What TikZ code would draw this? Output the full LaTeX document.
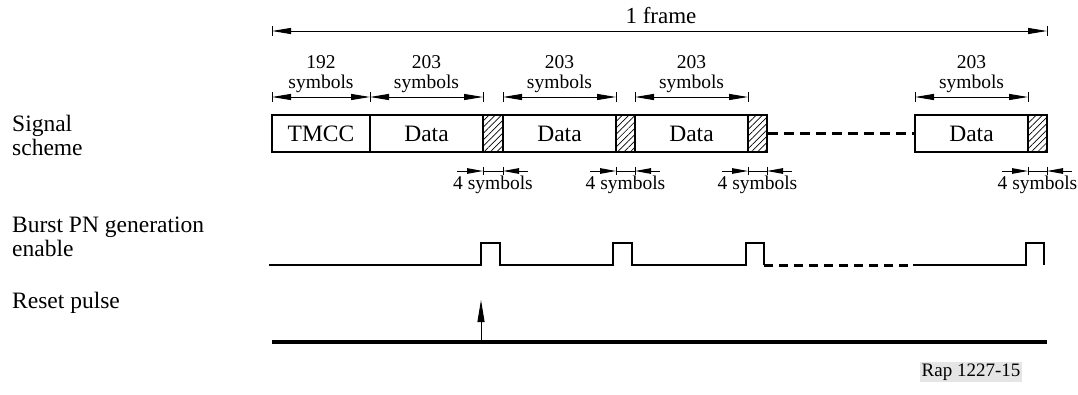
\documentclass[tikz,border=0pt]{standalone}
\usepackage{fontspec}
\setmainfont{Liberation Serif}
\usetikzlibrary{arrows.meta,patterns.meta}

\tikzset{
  lab/.style={anchor=base west, inner sep=0pt, font=\fontsize{23.5bp}{26bp}\selectfont},
  small/.style={anchor=base, inner sep=0pt, font=\fontsize{19.5bp}{22bp}\selectfont},
  box/.style={draw, line width=1.8bp, minimum height=37bp, inner sep=0pt,
    font=\fontsize{23.5bp}{26bp}\selectfont},
  hatchbox/.style={draw, line width=1.8bp, minimum height=37bp, inner sep=0pt,
    pattern={Lines[angle=45,distance=4.5bp,line width=0.7bp]}},
  dimline/.style={line width=1bp,
    {Triangle[length=19bp,width=6bp]}-{Triangle[length=19bp,width=6bp]}},
  shortarrow/.style={line width=1bp, -{Triangle[length=16bp,width=5.5bp]}},
  tickmark/.style={line width=0.8bp},
  gap/.style={line width=3bp, dash pattern=on 10bp off 6bp},
  wave/.style={line width=2bp, line join=miter},
  wavegap/.style={line width=3bp, dash pattern=on 9bp off 6bp},
  resetline/.style={line width=3.5bp},
}

\begin{document}
\begin{tikzpicture}[x=1bp,y=-1bp]
\useasboundingbox (0,0) rectangle (1078,394);

% ---- row labels
\node[lab] (l1) at (12,131) {Signal};
\node[lab] (l2) at (12,155) {scheme};
\node[lab] (l3) at (12,232) {Burst PN generation};
\node[lab] (l4) at (12,256) {enable};
\node[lab] (l5) at (12,308) {Reset pulse};

% ---- frame dimension
\coordinate (fa) at (272,31);
\coordinate (fb) at (1047,31);
\draw[dimline] (fa) -- (fb);
\foreach \c in {fa,fb} \draw[tickmark] (\c) ++(0,-5) -- ++(0,10);
\node[anchor=base, inner sep=0pt, font=\fontsize{23bp}{26bp}\selectfont] (frame) at (661,23) {1 frame};

% ---- segment boxes
\node[box, minimum width=98bp]  (tmcc) at (321,133.5)   {TMCC};
\node[box, minimum width=113bp] (d1)   at (426.5,133.5) {Data};
\node[hatchbox, minimum width=20bp] (h1) at (493,133.5) {};
\node[box, minimum width=113bp] (d2)   at (559.5,133.5) {Data};
\node[hatchbox, minimum width=19bp] (h2) at (625.5,133.5) {};
\node[box, minimum width=113bp] (d3)   at (691.5,133.5) {Data};
\node[hatchbox, minimum width=19bp] (h3) at (757.5,133.5) {};
\node[box, minimum width=113bp] (d4)   at (971.5,133.5) {Data};
\node[hatchbox, minimum width=19bp] (h4) at (1037.5,133.5) {};
\draw[gap] (h3.east) -- (d4.west);

% ---- segment lengths
\coordinate (s0) at (272,97);
\coordinate (s1) at (370,97);
\coordinate (s2) at (483,97);
\coordinate (s3) at (503,97);
\coordinate (s4) at (616,97);
\coordinate (s5) at (635,97);
\coordinate (s6) at (748,97);
\coordinate (s7) at (915,97);
\coordinate (s8) at (1028,97);
\draw[dimline] (s0) -- (s1);
\draw[dimline] (s1) -- (s2);
\draw[dimline] (s3) -- (s4);
\draw[dimline] (s5) -- (s6);
\draw[dimline] (s7) -- (s8);
\foreach \c in {s0,s1,s2,s3,s4,s5,s6,s7,s8} \draw[tickmark] (\c) ++(0,-5) -- ++(0,10);

\node[small] (n0) at (321,68) {192};
\node[small] (t0) at (321,88) {symbols};
\node[small] (n1) at (426.5,68) {203};
\node[small] (t1) at (426.5,88) {symbols};
\node[small] (n2) at (559.5,68) {203};
\node[small] (t2) at (559.5,88) {symbols};
\node[small] (n3) at (691.5,68) {203};
\node[small] (t3) at (691.5,88) {symbols};
\node[small] (n4) at (971.5,68) {203};
\node[small] (t4) at (971.5,88) {symbols};

% ---- 4-symbol guard intervals
\foreach \i/\a/\b in {1/483/503, 2/616/635, 3/748/767, 4/1028/1047} {
  \coordinate (ga\i) at (\a,171);
  \coordinate (gb\i) at (\b,171);
  \coordinate (gl\i) at (\a-26,171);
  \coordinate (gr\i) at (\b+25,171);
  \draw[shortarrow] (gl\i) -- (ga\i);
  \draw[shortarrow] (gr\i) -- (gb\i);
  \draw[tickmark] (ga\i) -- (gb\i);
  \draw[tickmark] (ga\i) ++(0,-4) -- ++(0,8);
  \draw[tickmark] (gb\i) ++(0,-4) -- ++(0,8);
  \node[small] (g\i) at ({(\a+\b)/2},189) {4 symbols};
}

% ---- burst PN generation enable waveform
\draw[wave] (269,265) -- (481,265) -- (481,243) -- (500,243) -- (500,265)
  -- (613,265) -- (613,243) -- (632,243) -- (632,265)
  -- (746,265) -- (746,243) -- (764,243) -- (764,265);
\draw[wavegap] (764,265) -- (913,265);
\draw[wave] (913,265) -- (1026,265) -- (1026,243) -- (1044,243) -- (1044,265);

% ---- reset pulse
\coordinate (ra) at (272,342);
\coordinate (rb) at (1047,342);
\draw[resetline] (ra) -- (rb);
\coordinate (rp) at (481,340);
\coordinate (rq) at (481,300);
\draw[line width=0.9bp, -{Triangle[length=22bp,width=7bp]}] (rp) -- (rq);

% ---- figure reference
\node[fill=black!10, inner sep=2bp, font=\fontsize{19bp}{22bp}\selectfont] (ref) at (971,372) {Rap 1227-15};
\end{tikzpicture}
\end{document}
